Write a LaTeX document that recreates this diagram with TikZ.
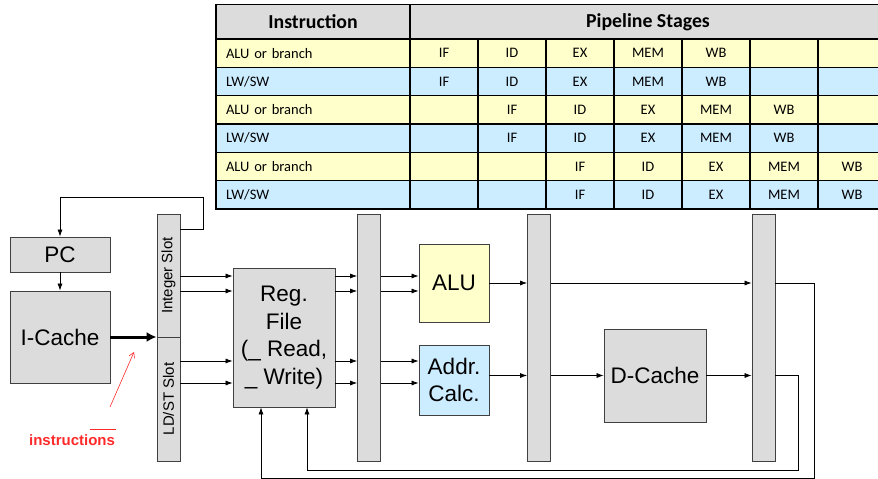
\documentclass[tikz,border=0pt]{standalone}
\usepackage{fontspec}
\setmainfont{Liberation Sans}
\newfontfamily\tabfont{Carlito}
\usetikzlibrary{arrows.meta}
\definecolor{rowy}{HTML}{FFFFCC}
\definecolor{rowb}{HTML}{CCECFF}
\definecolor{boxgray}{HTML}{DCDCDC}
\definecolor{edge}{HTML}{404040}
\definecolor{annred}{HTML}{FF2A2A}

\begin{document}
\begin{tikzpicture}[x=1pt,y=-1pt,
    cell/.style={draw=black,line width=1.2pt,minimum height=28.33pt,inner sep=0pt,
        font=\tabfont\fontsize{14.5}{16}\selectfont},
    headcell/.style={draw=black,line width=1.2pt,fill=boxgray,minimum height=34.5pt,
        inner sep=0pt,font=\tabfont\bfseries\fontsize{19.8}{22}\selectfont},
    blk/.style={draw=edge,line width=0.8pt,fill=boxgray,inner sep=0pt,align=center,
        font=\fontsize{22.5}{27.5}\selectfont},
    latch/.style={blk,minimum width=23pt,minimum height=247pt},
    slot/.style={blk,minimum width=23pt,font=\fontsize{15}{17}\selectfont},
    arr/.style={-{Latex[length=7pt,width=5pt]},line width=0.7pt}]
    \useasboundingbox (0,0) rectangle (878,479);
    \clip (0,0) rectangle (878,479);

    %% table of stages
    \node[headcell,minimum width=194pt] (hinstr) at (313,21.75) {Instruction};
    \node[headcell,minimum width=476pt] (hstages) at (648,21.75) {Pipeline Stages};
    \foreach \i/\s/\col/\name in {1/0/rowy/ALU or branch, 2/0/rowb/{LW/SW},
        3/1/rowy/ALU or branch, 4/1/rowb/{LW/SW},
        5/2/rowy/ALU or branch, 6/2/rowb/{LW/SW}} {
        \node[cell,fill=\col,text width=174pt,inner xsep=10pt,align=left] (r\i)
            at (313,39+\i*28.33-14.17) {\name};
        \foreach \k in {1,...,7}
            \node[cell,fill=\col,minimum width=68pt] (r\i-\k) at (376+\k*68,39+\i*28.33-14.17) {};
        \foreach \st [count=\n] in {IF,ID,EX,MEM,WB} {
            \pgfmathtruncatemacro\kk{\n+\s}
            \node[font=\tabfont\fontsize{14.5}{16}\selectfont] (t\i-\kk) at (r\i-\kk) {\st};
        }
    }

    %% fetch
    \node[blk,minimum width=100pt,minimum height=35pt] (pc) at (60,254.5) {PC};
    \node[blk,minimum width=100pt,minimum height=92pt] (icache) at (60,337) {I-Cache};
    \node[slot,minimum height=123pt] (intslot) at (168.5,275.5) {\rotatebox{90}{Integer Slot}};
    \node[slot,minimum height=124pt] (ldslot) at (168.5,399) {\rotatebox{90}{LD/ST Slot}};
    \draw[arr] (pc) -- (icache);
    \draw[arr] (intslot.east |- 0,229) -| (203,197) -| (pc);
    \draw[-{Latex[length=10pt,width=10pt]},line width=3pt] (icache) -- (icache -| intslot.west);

    %% annotation
    \node[text=annred,font=\bfseries\fontsize{15}{17}\selectfont] (instr) at (72,440) {instructions};
    \coordinate (annfrom) at (110,407);
    \coordinate (annto) at (134,352);
    \draw[annred,line width=0.6pt,-{Straight Barb[length=5pt,width=6pt]}] (annfrom) -- (annto);
    \draw[annred,line width=0.8pt] (90,429) -- (116,429);

    %% decode and execute
    \node[blk,minimum width=102pt,minimum height=139pt] (regfile) at (284,337.5)
        {Reg.\\File\\(\_ Read,\\\_ Write)};
    \node[latch] (pr2) at (369,337.5) {};
    \node[blk,fill=rowy,minimum width=70pt,minimum height=78pt] (alu) at (454,283) {ALU};
    \node[blk,fill=rowb,minimum width=70pt,minimum height=70pt] (addr) at (454,380) {Addr.\\Calc.};
    \node[latch] (pr3) at (539,337.5) {};
    \node[blk,minimum width=102pt,minimum height=93pt] (dcache) at (655,375.5) {D-Cache};
    \node[latch] (pr4) at (763.5,337.5) {};

    \foreach \y in {276,291} \draw[arr] (intslot.east |- 0,\y) -- (regfile.west |- 0,\y);
    \foreach \y in {361,383} \draw[arr] (ldslot.east |- 0,\y) -- (regfile.west |- 0,\y);
    \foreach \y in {276,291,361,383} \draw[arr] (regfile.east |- 0,\y) -- (pr2.west |- 0,\y);
    \foreach \y in {276,291} \draw[arr] (pr2.east |- 0,\y) -- (alu.west |- 0,\y);
    \foreach \y in {361,383} \draw[arr] (pr2.east |- 0,\y) -- (addr.west |- 0,\y);
    \draw[arr] (alu) -- (alu -| pr3.west);
    \draw[arr] (addr.east |- dcache) -- (pr3.west |- dcache);
    \draw[arr] (pr3.east |- alu) -- (pr4.west |- alu);
    \draw[arr] (pr3.east |- dcache) -- (dcache);
    \draw[arr] (dcache) -- (dcache -| pr4.west);

    %% write back
    \draw[arr] (pr4.east |- alu) -| (814,478) -| ([xshift=-23pt]regfile.south);
    \draw[arr] (pr4.east |- dcache) -| (798,470) -| ([xshift=23pt]regfile.south);
\end{tikzpicture}
\end{document}
